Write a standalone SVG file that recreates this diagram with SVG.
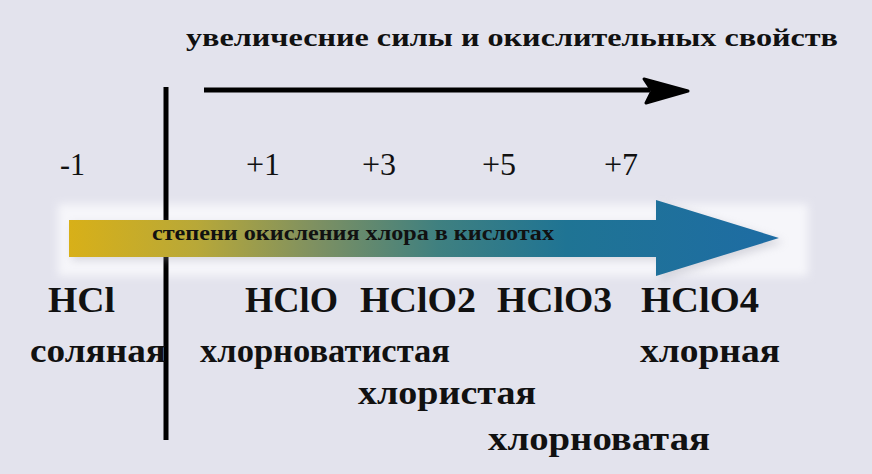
<svg xmlns="http://www.w3.org/2000/svg" width="872" height="474" viewBox="0 0 872 474">
<defs>
<linearGradient id="g" x1="68" y1="0" x2="780" y2="0" gradientUnits="userSpaceOnUse">
<stop offset="0" stop-color="#d8b018"/>
<stop offset="0.18" stop-color="#b8a838"/>
<stop offset="0.35" stop-color="#7d9062"/>
<stop offset="0.52" stop-color="#3f8080"/>
<stop offset="0.7" stop-color="#1f7494"/>
<stop offset="1" stop-color="#1e6ca4"/>
</linearGradient>
<filter id="blur" x="-10%" y="-50%" width="120%" height="200%"><feGaussianBlur stdDeviation="4"/></filter>
</defs>
<style>
text{font-family:"Liberation Serif","DejaVu Serif",serif}
.t{fill:#111;font-weight:bold}
.n{fill:#111;font-size:32px}
.f{font-size:36px}
.nm{font-size:34px}
</style>
<rect width="872" height="474" fill="#e3e3ed"/>
<g id="band">
<rect x="58" y="204" width="750" height="72" fill="#f6f6fa" filter="url(#blur)"/>
</g>
<g id="connectors">
<line x1="166" y1="87" x2="166" y2="440" stroke="#000" stroke-width="5"/>
<line x1="204" y1="90" x2="650" y2="90" stroke="#000" stroke-width="5"/>
<path d="M644,79 L688,91 L646,103 L652,91 Z" fill="#000" stroke="#000" stroke-width="3" stroke-linejoin="round"/>
</g>
<g id="bigarrow">
<path d="M72,224 L660,224 L660,203 L784,242 L660,280 L660,260 L72,260 Z" fill="#9a9aa8" opacity="0.35" filter="url(#blur)"/>
<path d="M69,220 L656,220 L656,200 L779,238 L656,276 L656,257 L69,257 Z" fill="url(#g)"/>
<text class="t" x="152" y="240" font-size="20" textLength="402" lengthAdjust="spacingAndGlyphs">степени окисления хлора в кислотах</text>
</g>
<g id="title">
<text class="t" x="186" y="46" font-size="26" textLength="652" lengthAdjust="spacingAndGlyphs">увеличесние силы и окислительных свойств</text>
</g>
<g id="states">
<text class="n" x="60" y="175" textLength="25" lengthAdjust="spacingAndGlyphs">-1</text>
<text class="n" x="246" y="175">+1</text>
<text class="n" x="362" y="175">+3</text>
<text class="n" x="482" y="175">+5</text>
<text class="n" x="604" y="175">+7</text>
</g>
<g id="hcl">
<text class="t f" x="48" y="312" textLength="67" lengthAdjust="spacingAndGlyphs">HCl</text>
<text class="t nm" x="30" y="362" textLength="136" lengthAdjust="spacingAndGlyphs">соляная</text>
</g>
<g id="hclo">
<text class="t f" x="245" y="312" textLength="93" lengthAdjust="spacingAndGlyphs">HClO</text>
<text class="t nm" x="200" y="362" textLength="250" lengthAdjust="spacingAndGlyphs">хлорноватистая</text>
</g>
<g id="hclo2">
<text class="t f" x="360" y="312" textLength="116" lengthAdjust="spacingAndGlyphs">HClO2</text>
<text class="t nm" x="358" y="404" textLength="178" lengthAdjust="spacingAndGlyphs">хлористая</text>
</g>
<g id="hclo3">
<text class="t f" x="497" y="312" textLength="115" lengthAdjust="spacingAndGlyphs">HClO3</text>
<text class="t nm" x="488" y="450" textLength="222" lengthAdjust="spacingAndGlyphs">хлорноватая</text>
</g>
<g id="hclo4">
<text class="t f" x="641" y="312" textLength="118" lengthAdjust="spacingAndGlyphs">HClO4</text>
<text class="t nm" x="640" y="362" textLength="140" lengthAdjust="spacingAndGlyphs">хлорная</text>
</g>
</svg>
